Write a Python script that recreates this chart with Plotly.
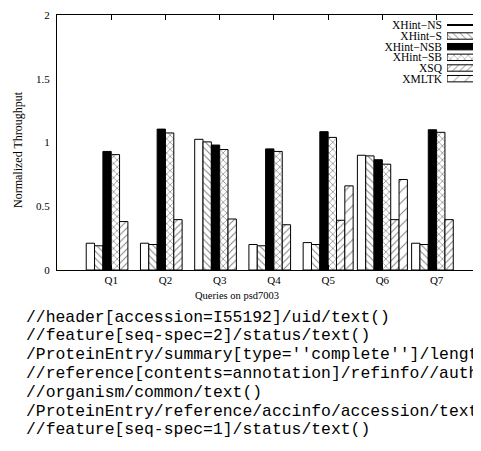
import plotly.graph_objects as go

queries = ["Q1", "Q2", "Q3", "Q4", "Q5", "Q6", "Q7"]
series_names = ["XHint\u2212NS", "XHint\u2212S", "XHint\u2212NSB", "XHint\u2212SB", "XSQ", "XMLTK"]
xhint_ns = [0.21, 0.21, 1.025, 0.20, 0.215, 0.90, 0.21]
xhint_s = [0.19, 0.20, 1.005, 0.19, 0.20, 0.895, 0.20]
xhint_nsb = [0.93, 1.105, 0.98, 0.95, 1.085, 0.865, 1.10]
xhint_sb = [0.905, 1.075, 0.945, 0.93, 1.04, 0.83, 1.08]
xsq = [0.38, 0.395, 0.40, 0.355, 0.39, 0.395, 0.395]
xmltk = [None, None, None, None, 0.66, 0.71, None]
y_ticks = [0, 0.5, 1, 1.5, 2]
y_tick_labels = ["0", "0.5", "1", "1.5", "2"]
x_title = "Queries on psd7003"
y_title = "Normalized Throughput"
query_texts = [
    "//header[accession=I55192]/uid/text()",
    "//feature[seq-spec=2]/status/text()",
    "/ProteinEntry/summary[type=''complete'']/length/text()",
    "//reference[contents=annotation]/refinfo//authors/author/text()",
    "//organism/common/text()",
    "/ProteinEntry/reference/accinfo/accession/text()",
    "//feature[seq-spec=1]/status/text()",
]

series_values = [xhint_ns, xhint_s, xhint_nsb, xhint_sb, xsq, xmltk]
styles = [
    dict(color="white", pattern=dict(shape="")),
    dict(color="white", pattern=dict(shape="\\", size=5, solidity=0.2, fgcolor="black", bgcolor="white")),
    dict(color="black", pattern=dict(shape="")),
    dict(color="white", pattern=dict(shape="x", size=5, solidity=0.25, fgcolor="black", bgcolor="white")),
    dict(color="white", pattern=dict(shape="/", size=5, solidity=0.2, fgcolor="black", bgcolor="white")),
    dict(color="white", pattern=dict(shape="/", size=8, solidity=0.12, fgcolor="black", bgcolor="white")),
]

# the page body has an 8px margin; positions below are window pixels
OFF = 8
W, H = 473, 432
ML, MR, MT = 57 - OFF, 1, 15 - OFF
PH = 255
MB = H - MT - PH
PW = W - ML - MR

def px_x(p):
    return (p - OFF - ML) / PW

def px_y(p):
    return (MT + PH - (p - OFF)) / PH

fig = go.Figure()
for name, vals, st in zip(series_names, series_values, styles):
    fig.add_trace(go.Bar(
        x=queries, y=vals, name=name, showlegend=False,
        marker=dict(color=st["color"], line=dict(color="black", width=1), pattern=st["pattern"]),
    ))

# custom legend (text left of swatch) drawn as horizontal bars on an auxiliary axis
leg_widths = [0.07, 0.6, 0.6, 0.6, 0.6, 0.6]
leg_colors = ["black", "white", "black", "white", "white", "white"]
leg_shapes = ["", "\\", "", "x", "/", "/"]
leg_sizes = [5, 5, 5, 5, 5, 8]
leg_sol = [0.2, 0.2, 0.2, 0.25, 0.2, 0.12]
leg_line = [0, 1, 1, 1, 1, 1]
fig.add_trace(go.Bar(
    x=[1] * len(series_names), y=series_names, orientation="h", width=leg_widths,
    xaxis="x2", yaxis="y2", showlegend=False, hoverinfo="skip",
    marker=dict(
        color=leg_colors,
        line=dict(color="black", width=leg_line),
        pattern=dict(shape=leg_shapes, size=leg_sizes, solidity=leg_sol, fgcolor="black", bgcolor="white"),
    ),
))

serif = "Liberation Serif, Times New Roman, serif"
fig.update_layout(
    width=W, height=H, margin=dict(l=ML, r=MR, t=MT, b=MB, pad=0, autoexpand=False),
    paper_bgcolor="white", plot_bgcolor="white",
    barmode="group", bargap=0.078, bargroupgap=0,
    font=dict(family=serif, size=11, color="black"),
    xaxis=dict(
        range=[-1, 6.8], showgrid=False, showline=True, linecolor="black", linewidth=1,
        mirror="ticks", ticks="inside", ticklen=5, tickcolor="black",
        tickfont=dict(size=11), fixedrange=True, automargin=False,
    ),
    yaxis=dict(
        range=[0, 2], tickvals=y_ticks, ticktext=y_tick_labels, showgrid=False,
        showline=True, linecolor="black", linewidth=1, ticks="", zeroline=False,
        tickfont=dict(size=11), ticklabelstandoff=4, automargin=False,
    ),
    xaxis2=dict(domain=[px_x(447), px_x(479)], range=[0, 1], anchor="y2",
                visible=False, fixedrange=True),
    yaxis2=dict(domain=[px_y(84), px_y(20)], anchor="x2", type="category",
                autorange="reversed", showline=False, showgrid=False, ticks="",
                tickmode="array", tickvals=series_names, ticktext=series_names,
                tickfont=dict(size=11.5), ticklabelstandoff=4, fixedrange=True, automargin=False),
    showlegend=False,
)

annotations = [
    dict(text=x_title, x=px_x(237), y=px_y(295), xref="paper", yref="paper",
         showarrow=False, xanchor="center", yanchor="middle", font=dict(size=10.5)),
    dict(text=y_title, x=px_x(18), y=px_y(150), xref="paper", yref="paper",
         showarrow=False, xanchor="center", yanchor="middle", textangle=-90, font=dict(size=12)),
]
for i, t in enumerate(query_texts):
    annotations.append(dict(
        text=t, x=px_x(24), y=px_y(317 + 18.8 * i), xref="paper", yref="paper",
        showarrow=False, xanchor="left", yanchor="middle",
        font=dict(family="Liberation Mono, Courier New, monospace", size=16.4, color="black"),
    ))
fig.update_layout(annotations=annotations)

fig.write_html("out.html")
